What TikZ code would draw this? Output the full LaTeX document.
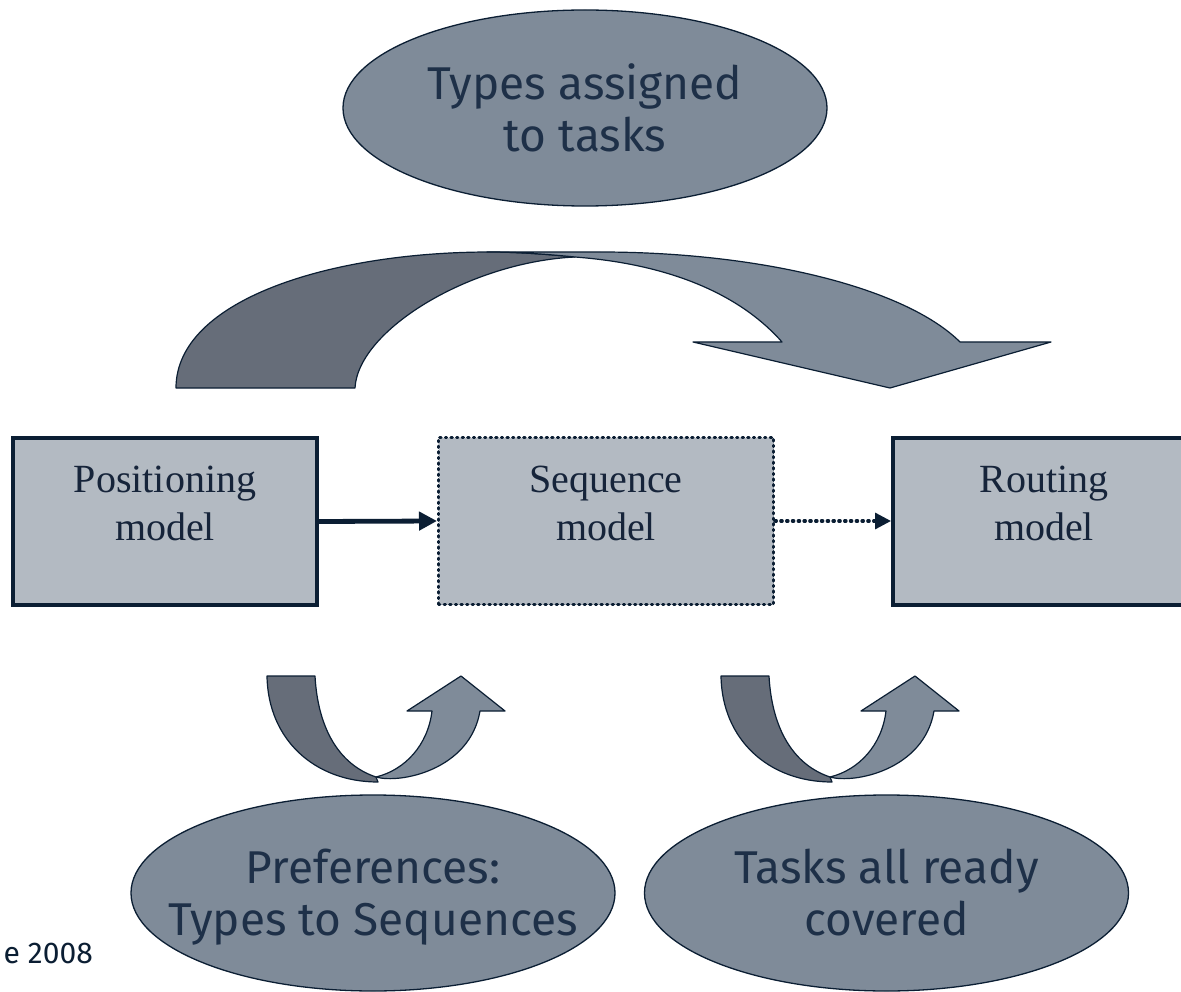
\documentclass[tikz,border=0pt]{standalone}
\usepackage{fontspec}
\newfontfamily\ellfont{Fira Sans}
\newfontfamily\boxfont{Liberation Serif}
\usetikzlibrary{shapes.geometric,arrows.meta}
\definecolor{ellfill}{RGB}{127,139,153}
\definecolor{darkfill}{RGB}{102,109,121}
\definecolor{boxfill}{RGB}{179,186,194}
\definecolor{edgec}{RGB}{11,30,51}
\definecolor{txtc}{RGB}{30,48,72}
\definecolor{boxtxt}{RGB}{22,36,58}
\begin{document}
\begin{tikzpicture}[x=1pt,y=-1pt,
  ell/.style={ellipse,draw=edgec,line width=1.3pt,fill=ellfill,
    minimum width=484pt,minimum height=196pt,inner sep=0pt},
  elltext/.style={align=center,inner sep=0pt,text=txtc,
    font=\ellfont\fontsize{46}{52}\selectfont},
  modelbox/.style={rectangle,fill=boxfill,inner sep=0pt,minimum height=167pt},
  solidbox/.style={modelbox,draw=edgec,line width=4pt},
  dotbox/.style={modelbox,draw=edgec,line width=3pt,line cap=round,
    dash pattern=on 1.4pt off 4.2pt},
  boxtext/.style={align=center,text=boxtxt,inner sep=0pt,
    font=\boxfont\fontsize{40}{48}\selectfont},
  backpiece/.style={fill=darkfill,draw=edgec,line width=1.2pt,line join=round},
  frontpiece/.style={fill=ellfill,draw=edgec,line width=1.2pt,line join=round},
  solidconn/.style={draw=edgec,line width=4.8pt,-{Triangle[length=18pt,width=18pt]}},
  dotconn/.style={draw=edgec,line width=3.2pt,line cap=round,
    dash pattern=on 1.4pt off 4.4pt,-{Triangle[length=16pt,width=16pt]}}
]
\path[fill=white,use as bounding box] (0,0) rectangle (1181,992);

% top ellipse
\node[ell] (types) at (585,108) {};
\node[elltext] (typest) at (types.center) {Types assigned\\to tasks};

% big curved arrow
\path[backpiece] (176,388) .. controls (176,300) and (330,252) .. (490,252)
  .. controls (515,252) and (545,254) .. (575,257)
  .. controls (470,262) and (358,330) .. (355,388) -- cycle;
\path[frontpiece] (487,252) -- (600,252)
  .. controls (761.5,252) and (905.7,288) .. (960,342)
  -- (1051,342) -- (890,388) -- (693,342) -- (782,342)
  .. controls (745,300) and (680,265) .. (575,257)
  .. controls (545,254) and (515,252) .. (487,252) -- cycle;

% boxes
\node[solidbox,minimum width=304pt] (pos) at (165,521.5) {};
\node[dotbox,minimum width=335pt] (seq) at (606,521) {};
\node[solidbox,minimum width=302pt] (rout) at (1044,521) {};
\node[boxtext] (post) at ([yshift=18pt]pos.center) {Positioning\\model};
\node[boxtext] (seqt) at ([yshift=18pt]seq.center) {Sequence\\model};
\node[boxtext] (routt) at ([yshift=18pt]rout.center) {Routing\\model};

% connectors
\draw[solidconn] (pos.east) -- (seq.west);
\draw[dotconn] (seq.east) -- (rout.west);

% small U arrows
\foreach \dx in {0,454}{
\begin{scope}[xshift=\dx pt]
\path[backpiece] (267,676) -- (315,676)
  .. controls (318,730) and (340,765) .. (376,777) -- (378,782)
  .. controls (315,782) and (268,740) .. (267,676) -- cycle;
\path[frontpiece] (376,777) .. controls (400,784) and (470,770) .. (480,711)
  -- (505,711) -- (461,676) -- (407,711) -- (432,711)
  .. controls (428,745) and (405,770) .. (376,777) -- cycle;
\end{scope}}

% bottom ellipses
\node[ell] (pref) at (373,893) {};
\node[elltext] (preft) at ([yshift=-4pt]pref.center) {Preferences:\\Types to Sequences};
\node[ell] (cov) at (886.5,893) {};
\node[elltext] (covt) at (cov.center) {Tasks all ready\\covered};

% footer fragment
\node[anchor=base east,inner sep=0pt,text=edgec,
  font=\ellfont\fontsize{30}{36}\selectfont] (foot) at (93,963) {e 2008};
\end{tikzpicture}
\end{document}
